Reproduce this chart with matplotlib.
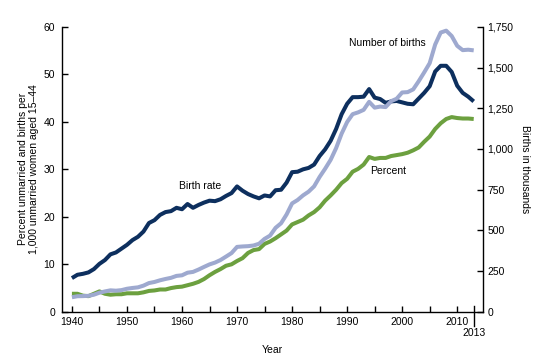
import matplotlib
matplotlib.use('Agg')
import matplotlib.pyplot as plt
from matplotlib.ticker import MultipleLocator, FuncFormatter

plt.rcParams['font.family'] = ['Liberation Sans', 'DejaVu Sans']
plt.rcParams['font.size'] = 7.5

# Dados, 1940-2013
years = list(range(1940, 2014))

birth_rate = [7.1, 7.8, 8.0, 8.3, 9.0, 10.1, 10.9, 12.1, 12.5, 13.3,
              14.1, 15.1, 15.8, 16.9, 18.7, 19.3, 20.4, 21.0, 21.2, 21.9,
              21.6, 22.7, 21.9, 22.5, 23.0, 23.4, 23.3, 23.7, 24.4, 25.0,
              26.4, 25.5, 24.8, 24.3, 23.9, 24.5, 24.3, 25.6, 25.7, 27.2,
              29.4, 29.5, 30.0, 30.3, 31.0, 32.8, 34.2, 36.0, 38.5, 41.6,
              43.8, 45.2, 45.2, 45.3, 46.9, 45.1, 44.8, 44.0, 44.3, 44.4,
              44.1, 43.8, 43.7, 44.9, 46.1, 47.5, 50.6, 51.8, 51.8, 50.5,
              47.6, 46.1, 45.3, 44.3]

percent = [3.8, 3.8, 3.4, 3.3, 3.8, 4.3, 3.8, 3.6, 3.7, 3.7,
           3.9, 3.9, 3.9, 4.1, 4.4, 4.5, 4.7, 4.7, 5.0, 5.2,
           5.3, 5.6, 5.9, 6.3, 6.9, 7.7, 8.4, 9.0, 9.7, 10.0,
           10.7, 11.3, 12.4, 13.0, 13.2, 14.3, 14.8, 15.5, 16.3, 17.1,
           18.4, 18.9, 19.4, 20.3, 21.0, 22.0, 23.4, 24.5, 25.7, 27.1,
           28.0, 29.5, 30.1, 31.0, 32.6, 32.2, 32.4, 32.4, 32.8, 33.0,
           33.2, 33.5, 34.0, 34.6, 35.8, 36.9, 38.5, 39.7, 40.6, 41.0,
           40.8, 40.7, 40.7, 40.6]

births = [89.5, 95.7, 96.5, 98.1, 105.2, 117.4, 125.2, 131.9, 129.7, 133.2,
          141.6, 146.5, 150.3, 160.8, 176.6, 183.3, 193.5, 201.7, 208.7, 220.6,
          224.3, 240.2, 245.1, 259.4, 275.7, 291.2, 302.4, 318.1, 339.2, 360.8,
          398.7, 401.4, 403.2, 407.3, 418.1, 447.9, 468.1, 515.7, 543.9, 597.8,
          665.7, 686.6, 715.2, 737.9, 770.4, 828.2, 878.5, 933.0, 1005.3, 1094.2,
          1165.4, 1213.8, 1224.9, 1240.2, 1289.6, 1253.9, 1260.3, 1257.4, 1293.6, 1308.6,
          1347.0, 1349.2, 1365.9, 1415.8, 1470.2, 1527.0, 1641.7, 1715.0, 1726.6, 1693.7,
          1633.5, 1607.0, 1609.6, 1605.6]

navy = '#0d2f5e'
light = '#9ea9cf'
green = '#6ca03f'

fig = plt.figure(figsize=(5.44, 3.58), dpi=100)
ax = fig.add_axes([0.114, 0.129, 0.774, 0.796])
ax2 = ax.twinx()

ax.plot(years, birth_rate, color=navy, lw=2.9, solid_capstyle='butt')
ax.plot(years, percent, color=green, lw=2.9, solid_capstyle='butt')
ax2.plot(years, births, color=light, lw=2.9, solid_capstyle='butt')

ax.set_xlim(1938.2, 2014.7)
ax.set_ylim(0, 60)
ax2.set_ylim(0, 1750)

ax.xaxis.set_minor_locator(MultipleLocator(5))
ax.set_xticks(range(1940, 2011, 10))
ax.yaxis.set_major_locator(MultipleLocator(10))
ax2.yaxis.set_major_locator(MultipleLocator(250))
ax2.yaxis.set_major_formatter(FuncFormatter(lambda v, p: f'{int(v):,}'))

ax.tick_params(axis='x', which='both', direction='in', length=4, width=1, pad=4)
ax.tick_params(axis='y', direction='in', length=4, width=1, pad=5)
ax2.tick_params(axis='y', direction='in', length=4, width=1, pad=3)

for a in (ax, ax2):
    a.spines['top'].set_visible(False)
    for s in a.spines.values():
        s.set_linewidth(1)
ax.spines['right'].set_visible(False)
ax2.spines['left'].set_visible(False)
ax2.spines['bottom'].set_visible(False)

# marca de 2013
ax.plot([2013, 2013], [-0.05, 0.022], transform=ax.get_xaxis_transform(),
        color='black', lw=1, clip_on=False)
ax.text(2013, -0.058, '2013', transform=ax.get_xaxis_transform(),
        ha='center', va='top')

ax.set_xlabel('Year', labelpad=13)
ax.set_ylabel('Percent unmarried and births per\n1,000 unmarried women aged 15\u201344',
              labelpad=3)
ax2.set_ylabel('Births in thousands', rotation=270, labelpad=12)

ax2.text(1997.4, 1650, 'Number of births', ha='center', va='center')
ax.text(1963.3, 26.5, 'Birth rate', ha='center', va='center')
ax.text(1997.5, 29.6, 'Percent', ha='center', va='center')

fig.savefig('out.png', dpi=100)
